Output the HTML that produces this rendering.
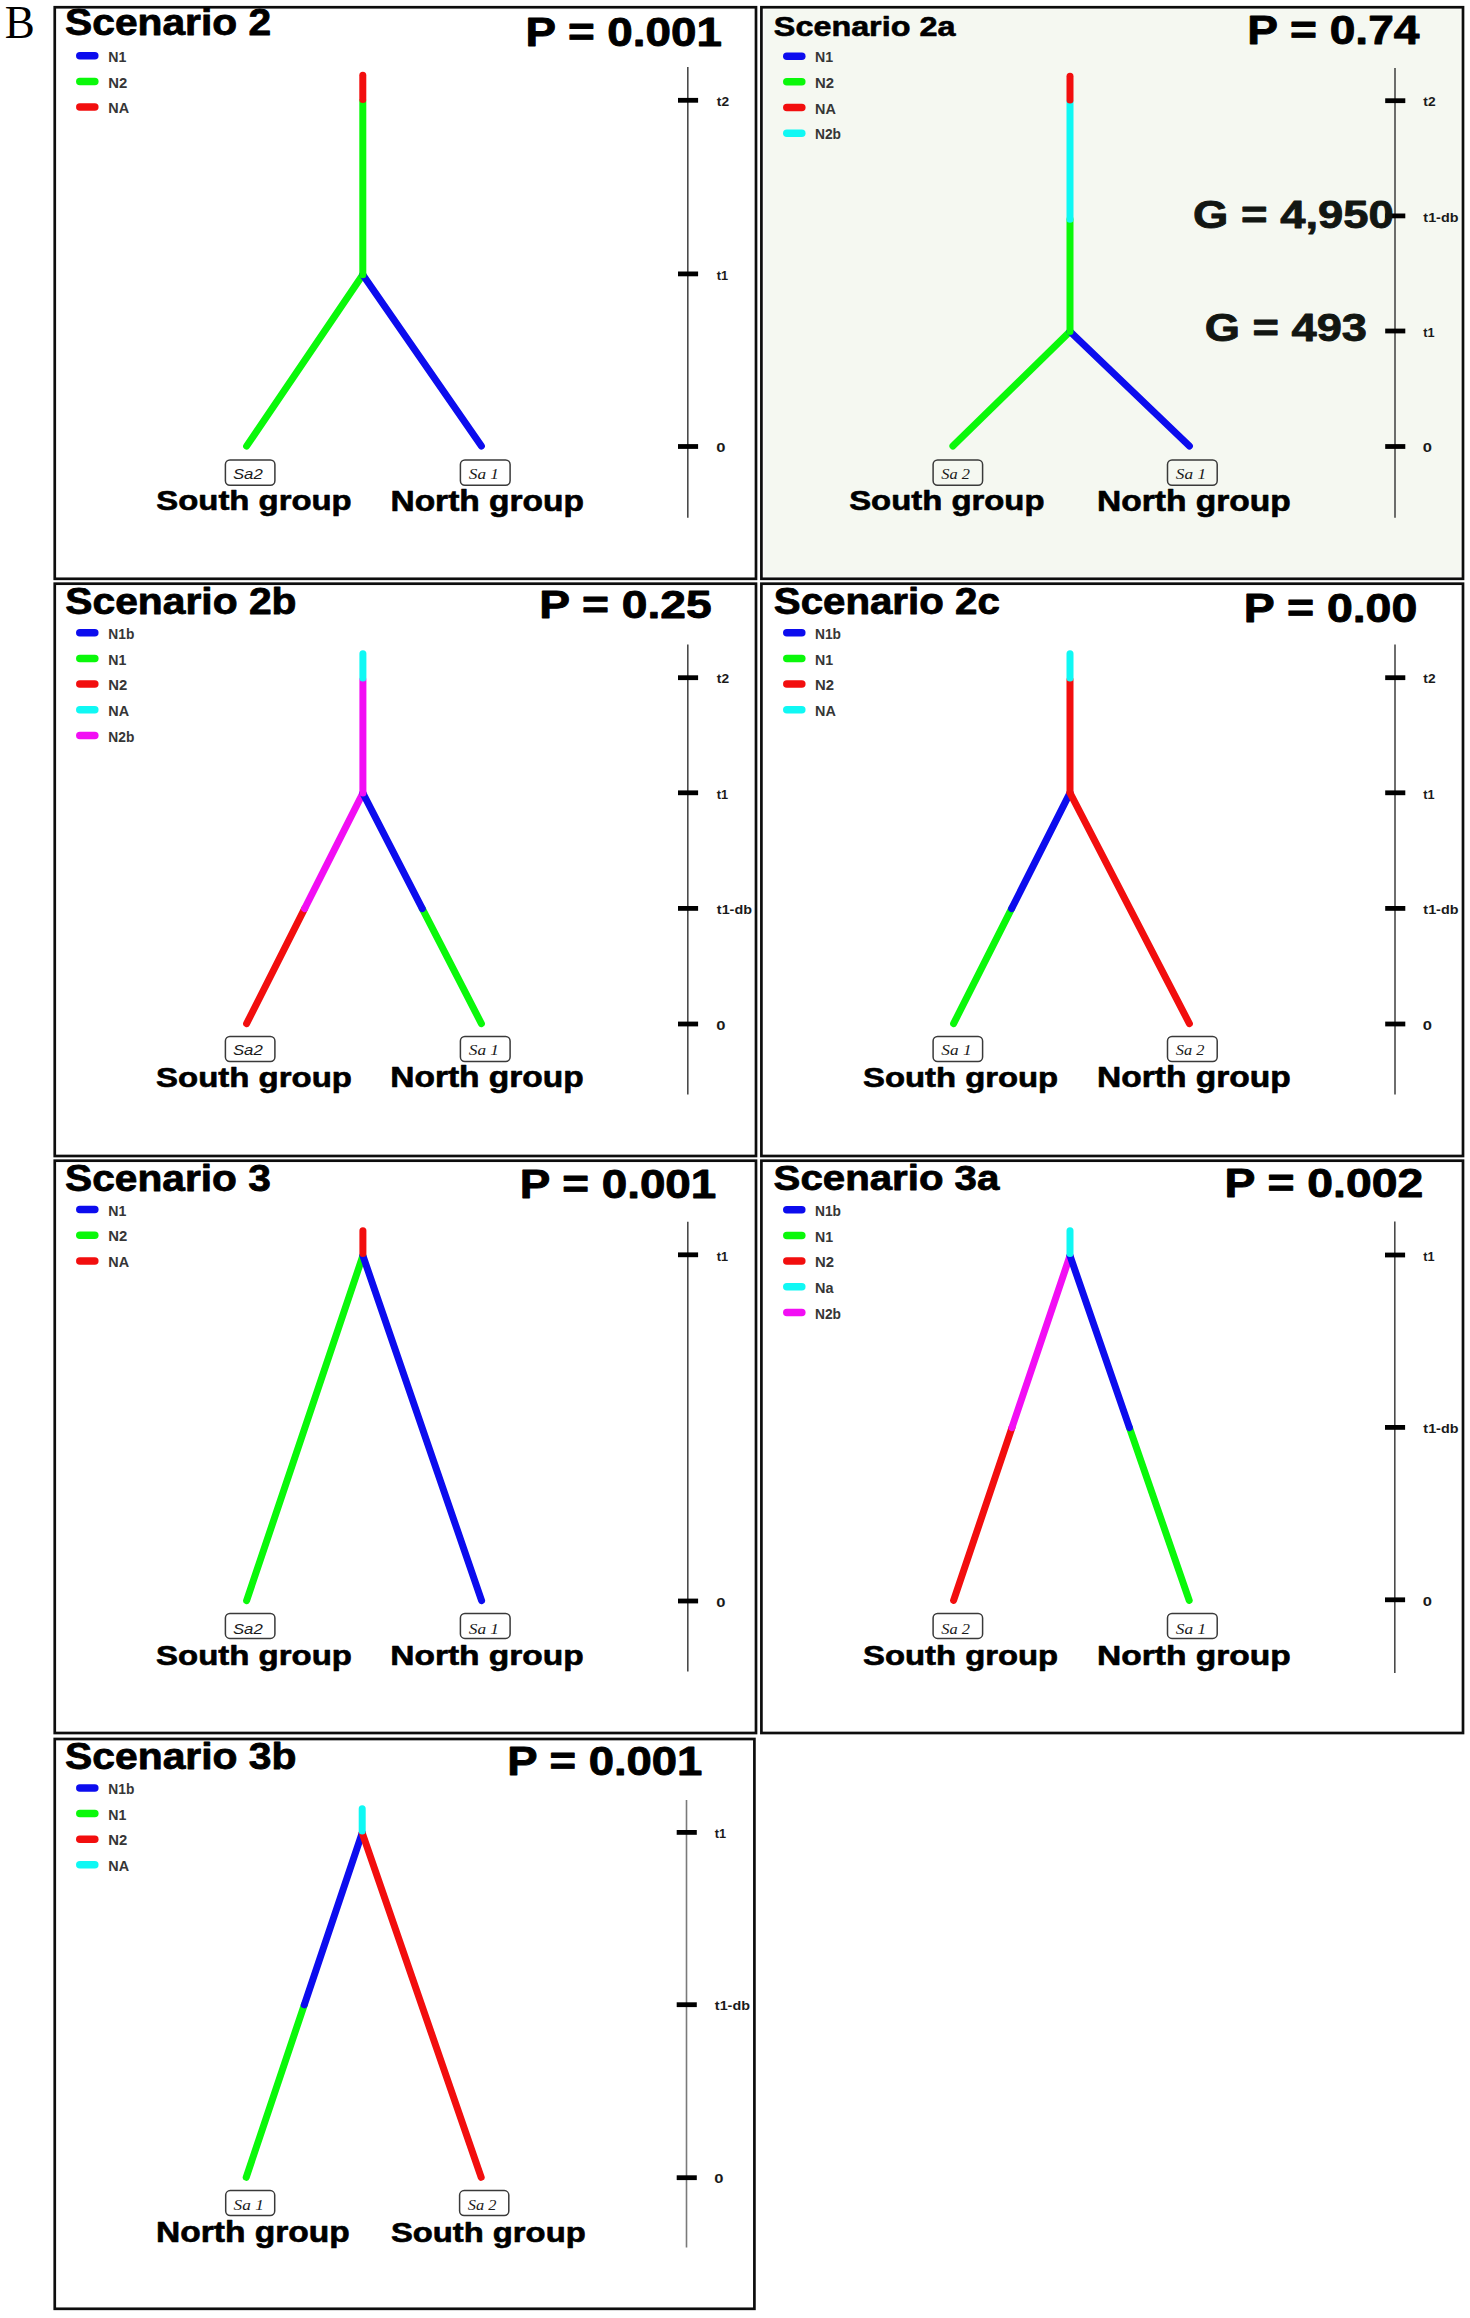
<!DOCTYPE html>
<html><head><meta charset="utf-8"><title>Scenarios</title>
<style>
html,body{margin:0;padding:0;background:#fff;}
body{width:1470px;height:2318px;overflow:hidden;font-family:"Liberation Sans",sans-serif;}
svg{display:block;}
</style></head><body>
<svg width="1470" height="2318" viewBox="0 0 1470 2318">
<rect x="0" y="0" width="1470" height="2318" fill="#fff"/>
<rect x="54.75" y="7.25" width="701.25" height="571.55" fill="#fff" stroke="#0d0d0d" stroke-width="2.70"/>
<rect x="761.40" y="7.25" width="701.60" height="571.55" fill="#fafbf8" stroke="#0d0d0d" stroke-width="2.70"/>
<rect x="764.5" y="9.8" width="695.7" height="566.5" fill="#f5f8f1"/>
<rect x="54.75" y="583.70" width="701.25" height="572.30" fill="#fff" stroke="#0d0d0d" stroke-width="2.70"/>
<rect x="761.40" y="583.70" width="701.60" height="572.30" fill="#fff" stroke="#0d0d0d" stroke-width="2.70"/>
<rect x="54.75" y="1160.70" width="701.25" height="572.30" fill="#fff" stroke="#0d0d0d" stroke-width="2.70"/>
<rect x="761.40" y="1160.70" width="701.60" height="572.30" fill="#fff" stroke="#0d0d0d" stroke-width="2.70"/>
<rect x="54.75" y="1739.00" width="699.65" height="569.80" fill="#fff" stroke="#0d0d0d" stroke-width="2.70"/>
<text x="4.75" y="38.00" font-family="'Liberation Serif'" font-size="46.77" font-weight="normal" font-style="normal" fill="#000" textLength="30.07" lengthAdjust="spacingAndGlyphs">B</text>
<text x="65.08" y="35.24" font-family="'Liberation Sans'" font-size="36.20" font-weight="bold" font-style="normal" fill="#000" stroke="#000" stroke-width="0.80" stroke-linejoin="round" textLength="206.08" lengthAdjust="spacingAndGlyphs">Scenario 2</text>
<text x="525.50" y="45.60" font-family="'Liberation Sans'" font-size="40.58" font-weight="bold" font-style="normal" fill="#000" stroke="#000" stroke-width="0.89" stroke-linejoin="round" textLength="196.43" lengthAdjust="spacingAndGlyphs">P = 0.001</text>
<line x1="79.8" y1="55.80" x2="94.8" y2="55.80" stroke="#0c0cee" stroke-width="7.5" stroke-linecap="round"/>
<text x="108.31" y="62.00" font-family="'Liberation Sans'" font-size="14.06" font-weight="bold" font-style="normal" fill="#363636" textLength="18.09" lengthAdjust="spacingAndGlyphs">N1</text>
<line x1="79.8" y1="81.45" x2="94.8" y2="81.45" stroke="#0af80a" stroke-width="7.5" stroke-linecap="round"/>
<text x="108.26" y="87.65" font-family="'Liberation Sans'" font-size="14.06" font-weight="bold" font-style="normal" fill="#363636" textLength="19.01" lengthAdjust="spacingAndGlyphs">N2</text>
<line x1="79.8" y1="107.10" x2="94.8" y2="107.10" stroke="#f20e0e" stroke-width="7.5" stroke-linecap="round"/>
<text x="108.29" y="113.30" font-family="'Liberation Sans'" font-size="14.06" font-weight="bold" font-style="normal" fill="#363636" textLength="20.80" lengthAdjust="spacingAndGlyphs">NA</text>
<line x1="687.8" y1="67.0" x2="687.8" y2="517.7" stroke="#4a4a4a" stroke-width="1.6"/>
<line x1="678.0" y1="100.3" x2="698.1" y2="100.3" stroke="#000" stroke-width="4.8"/>
<text x="716.86" y="106.07" font-family="'Liberation Sans'" font-size="13.24" font-weight="bold" font-style="normal" fill="#1a1a1a" textLength="12.28" lengthAdjust="spacingAndGlyphs">t2</text>
<line x1="678.0" y1="273.9" x2="698.1" y2="273.9" stroke="#000" stroke-width="4.8"/>
<text x="716.87" y="279.67" font-family="'Liberation Sans'" font-size="13.43" font-weight="bold" font-style="normal" fill="#1a1a1a" textLength="11.30" lengthAdjust="spacingAndGlyphs">t1</text>
<line x1="678.0" y1="446.5" x2="698.1" y2="446.5" stroke="#000" stroke-width="4.8"/>
<text x="716.34" y="452.27" font-family="'Liberation Sans'" font-size="13.24" font-weight="bold" font-style="normal" fill="#1a1a1a" textLength="9.23" lengthAdjust="spacingAndGlyphs">0</text>
<line x1="362.80" y1="274.70" x2="246.60" y2="446.10" stroke="#0af80a" stroke-width="7.0" stroke-linecap="round"/>
<line x1="362.80" y1="274.70" x2="481.40" y2="446.10" stroke="#0c0cee" stroke-width="7.0" stroke-linecap="round"/>
<line x1="362.80" y1="101.00" x2="362.80" y2="274.70" stroke="#0af80a" stroke-width="7.0" stroke-linecap="round"/>
<line x1="362.80" y1="75.30" x2="362.80" y2="99.50" stroke="#f20e0e" stroke-width="7.0" stroke-linecap="round"/>
<rect x="225.4" y="459.9" width="49.5" height="25.4" rx="4.5" ry="4.5" fill="none" stroke="#3a3a3a" stroke-width="1.5"/>
<text x="232.90" y="478.76" font-family="'Liberation Sans'" font-size="13.80" font-weight="normal" font-style="italic" fill="#1a1a1a" textLength="29.83" lengthAdjust="spacingAndGlyphs">Sa2</text>
<rect x="460.4" y="459.9" width="49.7" height="25.4" rx="4.5" ry="4.5" fill="none" stroke="#3a3a3a" stroke-width="1.5"/>
<text x="468.78" y="478.61" font-family="'Liberation Serif'" font-size="14.41" font-weight="normal" font-style="italic" fill="#1a1a1a" textLength="30.17" lengthAdjust="spacingAndGlyphs">Sa 1</text>
<text x="156.31" y="510.32" font-family="'Liberation Sans'" font-size="27.89" font-weight="bold" font-style="normal" fill="#000" stroke="#000" stroke-width="0.61" stroke-linejoin="round" textLength="195.40" lengthAdjust="spacingAndGlyphs">South group</text>
<text x="390.46" y="510.60" font-family="'Liberation Sans'" font-size="28.70" font-weight="bold" font-style="normal" fill="#000" stroke="#000" stroke-width="0.63" stroke-linejoin="round" textLength="193.50" lengthAdjust="spacingAndGlyphs">North group</text>
<text x="773.83" y="35.52" font-family="'Liberation Sans'" font-size="27.89" font-weight="bold" font-style="normal" fill="#000" stroke="#000" stroke-width="0.61" stroke-linejoin="round" textLength="181.59" lengthAdjust="spacingAndGlyphs">Scenario 2a</text>
<text x="1247.27" y="44.00" font-family="'Liberation Sans'" font-size="40.00" font-weight="bold" font-style="normal" fill="#000" stroke="#000" stroke-width="0.88" stroke-linejoin="round" textLength="172.16" lengthAdjust="spacingAndGlyphs">P = 0.74</text>
<line x1="786.8" y1="56.20" x2="801.8" y2="56.20" stroke="#0c0cee" stroke-width="7.5" stroke-linecap="round"/>
<text x="815.01" y="62.40" font-family="'Liberation Sans'" font-size="14.06" font-weight="bold" font-style="normal" fill="#363636" textLength="18.09" lengthAdjust="spacingAndGlyphs">N1</text>
<line x1="786.8" y1="81.85" x2="801.8" y2="81.85" stroke="#0af80a" stroke-width="7.5" stroke-linecap="round"/>
<text x="814.96" y="88.05" font-family="'Liberation Sans'" font-size="14.06" font-weight="bold" font-style="normal" fill="#363636" textLength="19.01" lengthAdjust="spacingAndGlyphs">N2</text>
<line x1="786.8" y1="107.50" x2="801.8" y2="107.50" stroke="#f20e0e" stroke-width="7.5" stroke-linecap="round"/>
<text x="814.99" y="113.70" font-family="'Liberation Sans'" font-size="14.06" font-weight="bold" font-style="normal" fill="#363636" textLength="20.80" lengthAdjust="spacingAndGlyphs">NA</text>
<line x1="786.8" y1="133.15" x2="801.8" y2="133.15" stroke="#10f8f4" stroke-width="7.5" stroke-linecap="round"/>
<text x="815.04" y="139.35" font-family="'Liberation Sans'" font-size="14.06" font-weight="bold" font-style="normal" fill="#363636" textLength="26.00" lengthAdjust="spacingAndGlyphs">N2b</text>
<line x1="1395.0" y1="68.0" x2="1395.0" y2="517.7" stroke="#4a4a4a" stroke-width="1.6"/>
<line x1="1385.2" y1="100.7" x2="1405.3" y2="100.7" stroke="#000" stroke-width="4.8"/>
<text x="1423.36" y="106.47" font-family="'Liberation Sans'" font-size="13.24" font-weight="bold" font-style="normal" fill="#1a1a1a" textLength="12.28" lengthAdjust="spacingAndGlyphs">t2</text>
<line x1="1385.2" y1="215.9" x2="1405.3" y2="215.9" stroke="#000" stroke-width="4.8"/>
<text x="1423.36" y="221.67" font-family="'Liberation Sans'" font-size="12.70" font-weight="bold" font-style="normal" fill="#1a1a1a" textLength="35.07" lengthAdjust="spacingAndGlyphs">t1-db</text>
<line x1="1385.2" y1="331.0" x2="1405.3" y2="331.0" stroke="#000" stroke-width="4.8"/>
<text x="1423.37" y="336.77" font-family="'Liberation Sans'" font-size="13.43" font-weight="bold" font-style="normal" fill="#1a1a1a" textLength="11.30" lengthAdjust="spacingAndGlyphs">t1</text>
<line x1="1385.2" y1="446.5" x2="1405.3" y2="446.5" stroke="#000" stroke-width="4.8"/>
<text x="1422.84" y="452.27" font-family="'Liberation Sans'" font-size="13.24" font-weight="bold" font-style="normal" fill="#1a1a1a" textLength="9.23" lengthAdjust="spacingAndGlyphs">0</text>
<line x1="1070.00" y1="331.40" x2="952.90" y2="446.10" stroke="#0af80a" stroke-width="7.0" stroke-linecap="round"/>
<line x1="1070.00" y1="331.40" x2="1189.40" y2="446.10" stroke="#0c0cee" stroke-width="7.0" stroke-linecap="round"/>
<line x1="1070.00" y1="219.20" x2="1070.00" y2="331.40" stroke="#0af80a" stroke-width="7.0" stroke-linecap="round"/>
<line x1="1070.00" y1="101.80" x2="1070.00" y2="219.20" stroke="#10f8f4" stroke-width="7.0" stroke-linecap="round"/>
<line x1="1070.00" y1="76.20" x2="1070.00" y2="100.00" stroke="#f20e0e" stroke-width="7.0" stroke-linecap="round"/>
<rect x="933.1" y="459.9" width="49.5" height="25.4" rx="4.5" ry="4.5" fill="none" stroke="#3a3a3a" stroke-width="1.5"/>
<text x="941.39" y="478.61" font-family="'Liberation Serif'" font-size="14.63" font-weight="normal" font-style="italic" fill="#1a1a1a" textLength="28.59" lengthAdjust="spacingAndGlyphs">Sa 2</text>
<rect x="1167.5" y="459.9" width="49.7" height="25.4" rx="4.5" ry="4.5" fill="none" stroke="#3a3a3a" stroke-width="1.5"/>
<text x="1175.88" y="478.61" font-family="'Liberation Serif'" font-size="14.41" font-weight="normal" font-style="italic" fill="#1a1a1a" textLength="30.17" lengthAdjust="spacingAndGlyphs">Sa 1</text>
<text x="849.21" y="510.32" font-family="'Liberation Sans'" font-size="27.61" font-weight="bold" font-style="normal" fill="#000" stroke="#000" stroke-width="0.61" stroke-linejoin="round" textLength="195.30" lengthAdjust="spacingAndGlyphs">South group</text>
<text x="1097.05" y="510.70" font-family="'Liberation Sans'" font-size="28.70" font-weight="bold" font-style="normal" fill="#000" stroke="#000" stroke-width="0.63" stroke-linejoin="round" textLength="193.70" lengthAdjust="spacingAndGlyphs">North group</text>
<text x="1193.08" y="227.71" font-family="'Liberation Sans'" font-size="38.59" font-weight="bold" font-style="normal" fill="#121612" stroke="#121612" stroke-width="0.85" stroke-linejoin="round" textLength="200.73" lengthAdjust="spacingAndGlyphs">G = 4,950</text>
<text x="1204.69" y="341.11" font-family="'Liberation Sans'" font-size="38.73" font-weight="bold" font-style="normal" fill="#121612" stroke="#121612" stroke-width="0.85" stroke-linejoin="round" textLength="162.34" lengthAdjust="spacingAndGlyphs">G = 493</text>
<text x="65.28" y="613.74" font-family="'Liberation Sans'" font-size="36.48" font-weight="bold" font-style="normal" fill="#000" stroke="#000" stroke-width="0.80" stroke-linejoin="round" textLength="231.22" lengthAdjust="spacingAndGlyphs">Scenario 2b</text>
<text x="539.17" y="618.00" font-family="'Liberation Sans'" font-size="39.71" font-weight="bold" font-style="normal" fill="#000" stroke="#000" stroke-width="0.87" stroke-linejoin="round" textLength="172.49" lengthAdjust="spacingAndGlyphs">P = 0.25</text>
<line x1="79.8" y1="632.80" x2="94.8" y2="632.80" stroke="#0c0cee" stroke-width="7.5" stroke-linecap="round"/>
<text x="108.34" y="639.00" font-family="'Liberation Sans'" font-size="14.06" font-weight="bold" font-style="normal" fill="#363636" textLength="26.00" lengthAdjust="spacingAndGlyphs">N1b</text>
<line x1="79.8" y1="658.45" x2="94.8" y2="658.45" stroke="#0af80a" stroke-width="7.5" stroke-linecap="round"/>
<text x="108.31" y="664.65" font-family="'Liberation Sans'" font-size="14.06" font-weight="bold" font-style="normal" fill="#363636" textLength="18.09" lengthAdjust="spacingAndGlyphs">N1</text>
<line x1="79.8" y1="684.10" x2="94.8" y2="684.10" stroke="#f20e0e" stroke-width="7.5" stroke-linecap="round"/>
<text x="108.26" y="690.30" font-family="'Liberation Sans'" font-size="14.06" font-weight="bold" font-style="normal" fill="#363636" textLength="19.01" lengthAdjust="spacingAndGlyphs">N2</text>
<line x1="79.8" y1="709.75" x2="94.8" y2="709.75" stroke="#10f8f4" stroke-width="7.5" stroke-linecap="round"/>
<text x="108.29" y="715.95" font-family="'Liberation Sans'" font-size="14.06" font-weight="bold" font-style="normal" fill="#363636" textLength="20.80" lengthAdjust="spacingAndGlyphs">NA</text>
<line x1="79.8" y1="735.40" x2="94.8" y2="735.40" stroke="#f20ef4" stroke-width="7.5" stroke-linecap="round"/>
<text x="108.34" y="741.60" font-family="'Liberation Sans'" font-size="14.06" font-weight="bold" font-style="normal" fill="#363636" textLength="26.00" lengthAdjust="spacingAndGlyphs">N2b</text>
<line x1="687.8" y1="644.5" x2="687.8" y2="1094.6" stroke="#4a4a4a" stroke-width="1.6"/>
<line x1="678.0" y1="677.7" x2="698.1" y2="677.7" stroke="#000" stroke-width="4.8"/>
<text x="716.86" y="683.47" font-family="'Liberation Sans'" font-size="13.24" font-weight="bold" font-style="normal" fill="#1a1a1a" textLength="12.28" lengthAdjust="spacingAndGlyphs">t2</text>
<line x1="678.0" y1="792.8" x2="698.1" y2="792.8" stroke="#000" stroke-width="4.8"/>
<text x="716.87" y="798.57" font-family="'Liberation Sans'" font-size="13.43" font-weight="bold" font-style="normal" fill="#1a1a1a" textLength="11.30" lengthAdjust="spacingAndGlyphs">t1</text>
<line x1="678.0" y1="908.4" x2="698.1" y2="908.4" stroke="#000" stroke-width="4.8"/>
<text x="716.86" y="914.17" font-family="'Liberation Sans'" font-size="12.70" font-weight="bold" font-style="normal" fill="#1a1a1a" textLength="35.07" lengthAdjust="spacingAndGlyphs">t1-db</text>
<line x1="678.0" y1="1024.0" x2="698.1" y2="1024.0" stroke="#000" stroke-width="4.8"/>
<text x="716.34" y="1029.77" font-family="'Liberation Sans'" font-size="13.24" font-weight="bold" font-style="normal" fill="#1a1a1a" textLength="9.23" lengthAdjust="spacingAndGlyphs">0</text>
<line x1="304.62" y1="908.60" x2="246.60" y2="1023.60" stroke="#f20e0e" stroke-width="7.0" stroke-linecap="round"/>
<line x1="362.90" y1="793.10" x2="304.62" y2="908.60" stroke="#f20ef4" stroke-width="7.0" stroke-linecap="round"/>
<line x1="422.28" y1="908.60" x2="481.40" y2="1023.60" stroke="#0af80a" stroke-width="7.0" stroke-linecap="round"/>
<line x1="362.90" y1="793.10" x2="422.28" y2="908.60" stroke="#0c0cee" stroke-width="7.0" stroke-linecap="round"/>
<line x1="362.90" y1="679.80" x2="362.90" y2="793.10" stroke="#f20ef4" stroke-width="7.0" stroke-linecap="round"/>
<line x1="362.90" y1="653.70" x2="362.90" y2="678.00" stroke="#10f8f4" stroke-width="7.0" stroke-linecap="round"/>
<rect x="225.4" y="1036.5" width="49.5" height="25.1" rx="4.5" ry="4.5" fill="none" stroke="#3a3a3a" stroke-width="1.5"/>
<text x="232.90" y="1055.46" font-family="'Liberation Sans'" font-size="13.80" font-weight="normal" font-style="italic" fill="#1a1a1a" textLength="29.83" lengthAdjust="spacingAndGlyphs">Sa2</text>
<rect x="460.4" y="1036.5" width="49.7" height="25.1" rx="4.5" ry="4.5" fill="none" stroke="#3a3a3a" stroke-width="1.5"/>
<text x="468.78" y="1055.31" font-family="'Liberation Serif'" font-size="14.41" font-weight="normal" font-style="italic" fill="#1a1a1a" textLength="30.17" lengthAdjust="spacingAndGlyphs">Sa 1</text>
<text x="156.11" y="1086.72" font-family="'Liberation Sans'" font-size="27.89" font-weight="bold" font-style="normal" fill="#000" stroke="#000" stroke-width="0.61" stroke-linejoin="round" textLength="195.80" lengthAdjust="spacingAndGlyphs">South group</text>
<text x="390.26" y="1087.00" font-family="'Liberation Sans'" font-size="28.70" font-weight="bold" font-style="normal" fill="#000" stroke="#000" stroke-width="0.63" stroke-linejoin="round" textLength="193.50" lengthAdjust="spacingAndGlyphs">North group</text>
<text x="773.79" y="613.74" font-family="'Liberation Sans'" font-size="36.48" font-weight="bold" font-style="normal" fill="#000" stroke="#000" stroke-width="0.80" stroke-linejoin="round" textLength="225.99" lengthAdjust="spacingAndGlyphs">Scenario 2c</text>
<text x="1243.85" y="622.10" font-family="'Liberation Sans'" font-size="40.00" font-weight="bold" font-style="normal" fill="#000" stroke="#000" stroke-width="0.88" stroke-linejoin="round" textLength="173.44" lengthAdjust="spacingAndGlyphs">P = 0.00</text>
<line x1="786.8" y1="632.80" x2="801.8" y2="632.80" stroke="#0c0cee" stroke-width="7.5" stroke-linecap="round"/>
<text x="815.04" y="639.00" font-family="'Liberation Sans'" font-size="14.06" font-weight="bold" font-style="normal" fill="#363636" textLength="26.00" lengthAdjust="spacingAndGlyphs">N1b</text>
<line x1="786.8" y1="658.45" x2="801.8" y2="658.45" stroke="#0af80a" stroke-width="7.5" stroke-linecap="round"/>
<text x="815.01" y="664.65" font-family="'Liberation Sans'" font-size="14.06" font-weight="bold" font-style="normal" fill="#363636" textLength="18.09" lengthAdjust="spacingAndGlyphs">N1</text>
<line x1="786.8" y1="684.10" x2="801.8" y2="684.10" stroke="#f20e0e" stroke-width="7.5" stroke-linecap="round"/>
<text x="814.96" y="690.30" font-family="'Liberation Sans'" font-size="14.06" font-weight="bold" font-style="normal" fill="#363636" textLength="19.01" lengthAdjust="spacingAndGlyphs">N2</text>
<line x1="786.8" y1="709.75" x2="801.8" y2="709.75" stroke="#10f8f4" stroke-width="7.5" stroke-linecap="round"/>
<text x="814.99" y="715.95" font-family="'Liberation Sans'" font-size="14.06" font-weight="bold" font-style="normal" fill="#363636" textLength="20.80" lengthAdjust="spacingAndGlyphs">NA</text>
<line x1="1395.0" y1="644.5" x2="1395.0" y2="1094.6" stroke="#4a4a4a" stroke-width="1.6"/>
<line x1="1385.2" y1="677.7" x2="1405.3" y2="677.7" stroke="#000" stroke-width="4.8"/>
<text x="1423.36" y="683.47" font-family="'Liberation Sans'" font-size="13.24" font-weight="bold" font-style="normal" fill="#1a1a1a" textLength="12.28" lengthAdjust="spacingAndGlyphs">t2</text>
<line x1="1385.2" y1="792.8" x2="1405.3" y2="792.8" stroke="#000" stroke-width="4.8"/>
<text x="1423.37" y="798.57" font-family="'Liberation Sans'" font-size="13.43" font-weight="bold" font-style="normal" fill="#1a1a1a" textLength="11.30" lengthAdjust="spacingAndGlyphs">t1</text>
<line x1="1385.2" y1="908.4" x2="1405.3" y2="908.4" stroke="#000" stroke-width="4.8"/>
<text x="1423.36" y="914.17" font-family="'Liberation Sans'" font-size="12.70" font-weight="bold" font-style="normal" fill="#1a1a1a" textLength="35.07" lengthAdjust="spacingAndGlyphs">t1-db</text>
<line x1="1385.2" y1="1024.0" x2="1405.3" y2="1024.0" stroke="#000" stroke-width="4.8"/>
<text x="1422.84" y="1029.77" font-family="'Liberation Sans'" font-size="13.24" font-weight="bold" font-style="normal" fill="#1a1a1a" textLength="9.23" lengthAdjust="spacingAndGlyphs">0</text>
<line x1="1011.60" y1="908.60" x2="953.60" y2="1023.60" stroke="#0af80a" stroke-width="7.0" stroke-linecap="round"/>
<line x1="1070.00" y1="792.80" x2="1011.60" y2="908.60" stroke="#0c0cee" stroke-width="7.0" stroke-linecap="round"/>
<line x1="1070.00" y1="792.80" x2="1189.40" y2="1023.60" stroke="#f20e0e" stroke-width="7.0" stroke-linecap="round"/>
<line x1="1070.00" y1="679.80" x2="1070.00" y2="792.00" stroke="#f20e0e" stroke-width="7.0" stroke-linecap="round"/>
<line x1="1070.00" y1="653.70" x2="1070.00" y2="678.00" stroke="#10f8f4" stroke-width="7.0" stroke-linecap="round"/>
<rect x="933.1" y="1036.5" width="49.5" height="25.1" rx="4.5" ry="4.5" fill="none" stroke="#3a3a3a" stroke-width="1.5"/>
<text x="941.38" y="1055.31" font-family="'Liberation Serif'" font-size="14.41" font-weight="normal" font-style="italic" fill="#1a1a1a" textLength="30.17" lengthAdjust="spacingAndGlyphs">Sa 1</text>
<rect x="1167.5" y="1036.5" width="49.7" height="25.1" rx="4.5" ry="4.5" fill="none" stroke="#3a3a3a" stroke-width="1.5"/>
<text x="1175.89" y="1055.31" font-family="'Liberation Serif'" font-size="14.63" font-weight="normal" font-style="italic" fill="#1a1a1a" textLength="28.59" lengthAdjust="spacingAndGlyphs">Sa 2</text>
<text x="863.01" y="1086.72" font-family="'Liberation Sans'" font-size="27.89" font-weight="bold" font-style="normal" fill="#000" stroke="#000" stroke-width="0.61" stroke-linejoin="round" textLength="195.20" lengthAdjust="spacingAndGlyphs">South group</text>
<text x="1097.05" y="1087.00" font-family="'Liberation Sans'" font-size="28.70" font-weight="bold" font-style="normal" fill="#000" stroke="#000" stroke-width="0.63" stroke-linejoin="round" textLength="193.70" lengthAdjust="spacingAndGlyphs">North group</text>
<text x="65.08" y="1190.54" font-family="'Liberation Sans'" font-size="36.48" font-weight="bold" font-style="normal" fill="#000" stroke="#000" stroke-width="0.80" stroke-linejoin="round" textLength="205.77" lengthAdjust="spacingAndGlyphs">Scenario 3</text>
<text x="519.79" y="1198.30" font-family="'Liberation Sans'" font-size="40.14" font-weight="bold" font-style="normal" fill="#000" stroke="#000" stroke-width="0.88" stroke-linejoin="round" textLength="196.53" lengthAdjust="spacingAndGlyphs">P = 0.001</text>
<line x1="79.8" y1="1209.60" x2="94.8" y2="1209.60" stroke="#0c0cee" stroke-width="7.5" stroke-linecap="round"/>
<text x="108.31" y="1215.80" font-family="'Liberation Sans'" font-size="14.06" font-weight="bold" font-style="normal" fill="#363636" textLength="18.09" lengthAdjust="spacingAndGlyphs">N1</text>
<line x1="79.8" y1="1235.25" x2="94.8" y2="1235.25" stroke="#0af80a" stroke-width="7.5" stroke-linecap="round"/>
<text x="108.26" y="1241.45" font-family="'Liberation Sans'" font-size="14.06" font-weight="bold" font-style="normal" fill="#363636" textLength="19.01" lengthAdjust="spacingAndGlyphs">N2</text>
<line x1="79.8" y1="1260.90" x2="94.8" y2="1260.90" stroke="#f20e0e" stroke-width="7.5" stroke-linecap="round"/>
<text x="108.29" y="1267.10" font-family="'Liberation Sans'" font-size="14.06" font-weight="bold" font-style="normal" fill="#363636" textLength="20.80" lengthAdjust="spacingAndGlyphs">NA</text>
<line x1="687.8" y1="1221.8" x2="687.8" y2="1671.4" stroke="#4a4a4a" stroke-width="1.6"/>
<line x1="678.0" y1="1254.8" x2="698.1" y2="1254.8" stroke="#000" stroke-width="4.8"/>
<text x="716.87" y="1260.57" font-family="'Liberation Sans'" font-size="13.43" font-weight="bold" font-style="normal" fill="#1a1a1a" textLength="11.30" lengthAdjust="spacingAndGlyphs">t1</text>
<line x1="678.0" y1="1601.0" x2="698.1" y2="1601.0" stroke="#000" stroke-width="4.8"/>
<text x="716.34" y="1606.77" font-family="'Liberation Sans'" font-size="13.24" font-weight="bold" font-style="normal" fill="#1a1a1a" textLength="9.23" lengthAdjust="spacingAndGlyphs">0</text>
<line x1="362.90" y1="1255.70" x2="246.60" y2="1600.60" stroke="#0af80a" stroke-width="7.0" stroke-linecap="round"/>
<line x1="362.90" y1="1255.70" x2="481.60" y2="1600.60" stroke="#0c0cee" stroke-width="7.0" stroke-linecap="round"/>
<line x1="362.90" y1="1230.80" x2="362.90" y2="1253.50" stroke="#f20e0e" stroke-width="7.0" stroke-linecap="round"/>
<rect x="225.4" y="1613.5" width="49.5" height="24.9" rx="4.5" ry="4.5" fill="none" stroke="#3a3a3a" stroke-width="1.5"/>
<text x="232.90" y="1633.86" font-family="'Liberation Sans'" font-size="13.80" font-weight="normal" font-style="italic" fill="#1a1a1a" textLength="29.83" lengthAdjust="spacingAndGlyphs">Sa2</text>
<rect x="460.4" y="1613.5" width="49.7" height="24.9" rx="4.5" ry="4.5" fill="none" stroke="#3a3a3a" stroke-width="1.5"/>
<text x="468.78" y="1633.71" font-family="'Liberation Serif'" font-size="14.41" font-weight="normal" font-style="italic" fill="#1a1a1a" textLength="30.17" lengthAdjust="spacingAndGlyphs">Sa 1</text>
<text x="156.11" y="1665.02" font-family="'Liberation Sans'" font-size="27.61" font-weight="bold" font-style="normal" fill="#000" stroke="#000" stroke-width="0.61" stroke-linejoin="round" textLength="195.80" lengthAdjust="spacingAndGlyphs">South group</text>
<text x="390.26" y="1665.30" font-family="'Liberation Sans'" font-size="28.41" font-weight="bold" font-style="normal" fill="#000" stroke="#000" stroke-width="0.62" stroke-linejoin="round" textLength="193.50" lengthAdjust="spacingAndGlyphs">North group</text>
<text x="773.59" y="1190.14" font-family="'Liberation Sans'" font-size="35.92" font-weight="bold" font-style="normal" fill="#000" stroke="#000" stroke-width="0.79" stroke-linejoin="round" textLength="225.78" lengthAdjust="spacingAndGlyphs">Scenario 3a</text>
<text x="1224.46" y="1196.60" font-family="'Liberation Sans'" font-size="39.86" font-weight="bold" font-style="normal" fill="#000" stroke="#000" stroke-width="0.88" stroke-linejoin="round" textLength="198.85" lengthAdjust="spacingAndGlyphs">P = 0.002</text>
<line x1="786.8" y1="1209.80" x2="801.8" y2="1209.80" stroke="#0c0cee" stroke-width="7.5" stroke-linecap="round"/>
<text x="815.04" y="1216.00" font-family="'Liberation Sans'" font-size="14.06" font-weight="bold" font-style="normal" fill="#363636" textLength="26.00" lengthAdjust="spacingAndGlyphs">N1b</text>
<line x1="786.8" y1="1235.45" x2="801.8" y2="1235.45" stroke="#0af80a" stroke-width="7.5" stroke-linecap="round"/>
<text x="815.01" y="1241.65" font-family="'Liberation Sans'" font-size="14.06" font-weight="bold" font-style="normal" fill="#363636" textLength="18.09" lengthAdjust="spacingAndGlyphs">N1</text>
<line x1="786.8" y1="1261.10" x2="801.8" y2="1261.10" stroke="#f20e0e" stroke-width="7.5" stroke-linecap="round"/>
<text x="814.96" y="1267.30" font-family="'Liberation Sans'" font-size="14.06" font-weight="bold" font-style="normal" fill="#363636" textLength="19.01" lengthAdjust="spacingAndGlyphs">N2</text>
<line x1="786.8" y1="1286.75" x2="801.8" y2="1286.75" stroke="#10f8f4" stroke-width="7.5" stroke-linecap="round"/>
<text x="814.99" y="1292.95" font-family="'Liberation Sans'" font-size="14.06" font-weight="bold" font-style="normal" fill="#363636" textLength="18.49" lengthAdjust="spacingAndGlyphs">Na</text>
<line x1="786.8" y1="1312.40" x2="801.8" y2="1312.40" stroke="#f20ef4" stroke-width="7.5" stroke-linecap="round"/>
<text x="815.04" y="1318.60" font-family="'Liberation Sans'" font-size="14.06" font-weight="bold" font-style="normal" fill="#363636" textLength="26.00" lengthAdjust="spacingAndGlyphs">N2b</text>
<line x1="1394.8" y1="1221.6" x2="1394.8" y2="1673.0" stroke="#4a4a4a" stroke-width="1.6"/>
<line x1="1385.0" y1="1255.0" x2="1405.1" y2="1255.0" stroke="#000" stroke-width="4.8"/>
<text x="1423.37" y="1260.77" font-family="'Liberation Sans'" font-size="13.43" font-weight="bold" font-style="normal" fill="#1a1a1a" textLength="11.30" lengthAdjust="spacingAndGlyphs">t1</text>
<line x1="1385.0" y1="1427.4" x2="1405.1" y2="1427.4" stroke="#000" stroke-width="4.8"/>
<text x="1423.36" y="1433.17" font-family="'Liberation Sans'" font-size="12.70" font-weight="bold" font-style="normal" fill="#1a1a1a" textLength="35.07" lengthAdjust="spacingAndGlyphs">t1-db</text>
<line x1="1385.0" y1="1599.8" x2="1405.1" y2="1599.8" stroke="#000" stroke-width="4.8"/>
<text x="1422.84" y="1605.57" font-family="'Liberation Sans'" font-size="13.24" font-weight="bold" font-style="normal" fill="#1a1a1a" textLength="9.23" lengthAdjust="spacingAndGlyphs">0</text>
<line x1="1011.95" y1="1427.60" x2="953.60" y2="1600.40" stroke="#f20e0e" stroke-width="7.0" stroke-linecap="round"/>
<line x1="1070.00" y1="1255.70" x2="1011.95" y2="1427.60" stroke="#f20ef4" stroke-width="7.0" stroke-linecap="round"/>
<line x1="1129.44" y1="1427.60" x2="1189.20" y2="1600.40" stroke="#0af80a" stroke-width="7.0" stroke-linecap="round"/>
<line x1="1070.00" y1="1255.70" x2="1129.44" y2="1427.60" stroke="#0c0cee" stroke-width="7.0" stroke-linecap="round"/>
<line x1="1070.00" y1="1230.80" x2="1070.00" y2="1253.50" stroke="#10f8f4" stroke-width="7.0" stroke-linecap="round"/>
<rect x="933.1" y="1613.5" width="49.5" height="24.9" rx="4.5" ry="4.5" fill="none" stroke="#3a3a3a" stroke-width="1.5"/>
<text x="941.39" y="1633.71" font-family="'Liberation Serif'" font-size="14.63" font-weight="normal" font-style="italic" fill="#1a1a1a" textLength="28.59" lengthAdjust="spacingAndGlyphs">Sa 2</text>
<rect x="1167.5" y="1613.5" width="49.7" height="24.9" rx="4.5" ry="4.5" fill="none" stroke="#3a3a3a" stroke-width="1.5"/>
<text x="1175.88" y="1633.71" font-family="'Liberation Serif'" font-size="14.41" font-weight="normal" font-style="italic" fill="#1a1a1a" textLength="30.17" lengthAdjust="spacingAndGlyphs">Sa 1</text>
<text x="863.01" y="1665.02" font-family="'Liberation Sans'" font-size="27.61" font-weight="bold" font-style="normal" fill="#000" stroke="#000" stroke-width="0.61" stroke-linejoin="round" textLength="195.20" lengthAdjust="spacingAndGlyphs">South group</text>
<text x="1097.05" y="1665.30" font-family="'Liberation Sans'" font-size="28.41" font-weight="bold" font-style="normal" fill="#000" stroke="#000" stroke-width="0.62" stroke-linejoin="round" textLength="193.70" lengthAdjust="spacingAndGlyphs">North group</text>
<text x="65.08" y="1768.53" font-family="'Liberation Sans'" font-size="36.62" font-weight="bold" font-style="normal" fill="#000" stroke="#000" stroke-width="0.81" stroke-linejoin="round" textLength="231.42" lengthAdjust="spacingAndGlyphs">Scenario 3b</text>
<text x="507.32" y="1775.00" font-family="'Liberation Sans'" font-size="40.00" font-weight="bold" font-style="normal" fill="#000" stroke="#000" stroke-width="0.88" stroke-linejoin="round" textLength="195.10" lengthAdjust="spacingAndGlyphs">P = 0.001</text>
<line x1="79.8" y1="1787.90" x2="94.8" y2="1787.90" stroke="#0c0cee" stroke-width="7.5" stroke-linecap="round"/>
<text x="108.34" y="1794.10" font-family="'Liberation Sans'" font-size="14.06" font-weight="bold" font-style="normal" fill="#363636" textLength="26.00" lengthAdjust="spacingAndGlyphs">N1b</text>
<line x1="79.8" y1="1813.55" x2="94.8" y2="1813.55" stroke="#0af80a" stroke-width="7.5" stroke-linecap="round"/>
<text x="108.31" y="1819.75" font-family="'Liberation Sans'" font-size="14.06" font-weight="bold" font-style="normal" fill="#363636" textLength="18.09" lengthAdjust="spacingAndGlyphs">N1</text>
<line x1="79.8" y1="1839.20" x2="94.8" y2="1839.20" stroke="#f20e0e" stroke-width="7.5" stroke-linecap="round"/>
<text x="108.26" y="1845.40" font-family="'Liberation Sans'" font-size="14.06" font-weight="bold" font-style="normal" fill="#363636" textLength="19.01" lengthAdjust="spacingAndGlyphs">N2</text>
<line x1="79.8" y1="1864.85" x2="94.8" y2="1864.85" stroke="#10f8f4" stroke-width="7.5" stroke-linecap="round"/>
<text x="108.29" y="1871.05" font-family="'Liberation Sans'" font-size="14.06" font-weight="bold" font-style="normal" fill="#363636" textLength="20.80" lengthAdjust="spacingAndGlyphs">NA</text>
<line x1="686.5" y1="1800.0" x2="686.5" y2="2247.6" stroke="#7a7a7a" stroke-width="1.6"/>
<line x1="676.7" y1="1832.4" x2="696.8" y2="1832.4" stroke="#000" stroke-width="4.8"/>
<text x="714.87" y="1838.17" font-family="'Liberation Sans'" font-size="13.43" font-weight="bold" font-style="normal" fill="#1a1a1a" textLength="11.30" lengthAdjust="spacingAndGlyphs">t1</text>
<line x1="676.7" y1="2004.7" x2="696.8" y2="2004.7" stroke="#000" stroke-width="4.8"/>
<text x="714.86" y="2010.47" font-family="'Liberation Sans'" font-size="12.70" font-weight="bold" font-style="normal" fill="#1a1a1a" textLength="35.07" lengthAdjust="spacingAndGlyphs">t1-db</text>
<line x1="676.7" y1="2177.7" x2="696.8" y2="2177.7" stroke="#000" stroke-width="4.8"/>
<text x="714.34" y="2183.47" font-family="'Liberation Sans'" font-size="13.24" font-weight="bold" font-style="normal" fill="#1a1a1a" textLength="9.23" lengthAdjust="spacingAndGlyphs">0</text>
<line x1="304.30" y1="2004.80" x2="246.20" y2="2177.30" stroke="#0af80a" stroke-width="7.0" stroke-linecap="round"/>
<line x1="362.20" y1="1832.90" x2="304.30" y2="2004.80" stroke="#0c0cee" stroke-width="7.0" stroke-linecap="round"/>
<line x1="362.20" y1="1832.90" x2="481.20" y2="2177.30" stroke="#f20e0e" stroke-width="7.0" stroke-linecap="round"/>
<line x1="362.20" y1="1808.80" x2="362.20" y2="1831.00" stroke="#10f8f4" stroke-width="7.0" stroke-linecap="round"/>
<rect x="225.7" y="2190.6" width="49.0" height="24.9" rx="4.5" ry="4.5" fill="none" stroke="#3a3a3a" stroke-width="1.5"/>
<text x="233.63" y="2209.91" font-family="'Liberation Serif'" font-size="14.41" font-weight="normal" font-style="italic" fill="#1a1a1a" textLength="30.17" lengthAdjust="spacingAndGlyphs">Sa 1</text>
<rect x="459.6" y="2190.6" width="49.2" height="24.9" rx="4.5" ry="4.5" fill="none" stroke="#3a3a3a" stroke-width="1.5"/>
<text x="467.74" y="2209.91" font-family="'Liberation Serif'" font-size="14.63" font-weight="normal" font-style="italic" fill="#1a1a1a" textLength="28.59" lengthAdjust="spacingAndGlyphs">Sa 2</text>
<text x="156.05" y="2241.80" font-family="'Liberation Sans'" font-size="28.99" font-weight="bold" font-style="normal" fill="#000" stroke="#000" stroke-width="0.64" stroke-linejoin="round" textLength="193.60" lengthAdjust="spacingAndGlyphs">North group</text>
<text x="390.92" y="2241.52" font-family="'Liberation Sans'" font-size="28.17" font-weight="bold" font-style="normal" fill="#000" stroke="#000" stroke-width="0.62" stroke-linejoin="round" textLength="194.79" lengthAdjust="spacingAndGlyphs">South group</text>
</svg>
</body></html>
